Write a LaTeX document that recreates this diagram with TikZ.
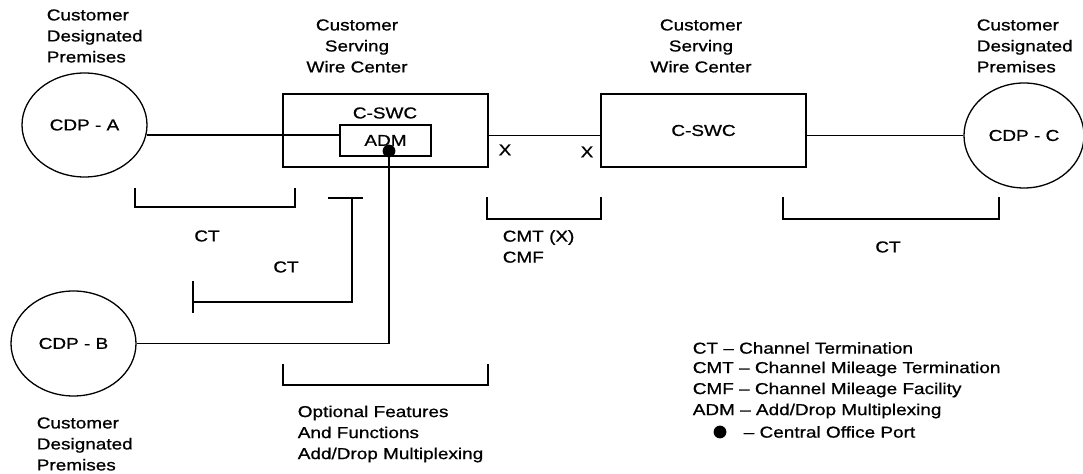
\documentclass[tikz,border=0pt]{standalone}
\usepackage{fontspec}
\setmainfont{Liberation Sans}[FakeStretch=1.2, FakeBold=0.8]
\usetikzlibrary{shapes.geometric}

\begin{document}
\begin{tikzpicture}[x=0.5pt, y=-0.5pt, line width=0.8pt,
  cdp/.style  ={draw, ellipse, inner sep=0pt, line width=0.65pt},
  swc/.style  ={draw, rectangle, inner sep=0pt, minimum width=102.5pt, minimum height=36.5pt},
  adm/.style  ={draw, rectangle, inner sep=0pt, minimum width=45.5pt, minimum height=15.5pt},
  port/.style ={circle, fill=black, inner sep=0pt, minimum size=6.4pt},
  lbl/.style  ={font=\fontsize{7.9}{10.5}\selectfont, inner sep=0pt}]

  \useasboundingbox (0,0) rectangle (1083,474);

  % ---------------- premises and wire centers ----------------
  \node[cdp,lbl,minimum width=62.5pt,minimum height=52pt]   (cdpa) at (84.5,125)  {CDP - A};
  \node[cdp,lbl,minimum width=62.5pt,minimum height=52.5pt] (cdpb) at (73.5,343.5) {CDP - B};
  \node[cdp,lbl,minimum width=60pt,minimum height=52.5pt]   (cdpc) at (1024,135.5) {CDP - C};

  \node[swc] (swc1) at (385.5,130.5) {};
  \node[lbl] (swc1lbl) at (385,113) {C-SWC};
  \node[adm,lbl] (adm) at (385.5,140.5) {ADM};
  \node[swc,lbl] (swc2) at (703.5,130.5) {C-SWC};

  % ---------------- captions ----------------
  \node[lbl,align=left,anchor=west]  (capa) at (46,36)   {Customer\\Designated\\Premises};
  \node[lbl,align=center]            (cap1) at (357,46)  {Customer\\Serving\\Wire Center};
  \node[lbl,align=center]            (cap2) at (701,46)  {Customer\\Serving\\Wire Center};
  \node[lbl,align=left,anchor=west]  (capc) at (976,46)  {Customer\\Designated\\Premises};
  \node[lbl,align=left,anchor=west]  (capb) at (36,444)  {Customer\\Designated\\Premises};

  % ---------------- channel lines ----------------
  \draw (cdpa.-9.26) -- (cdpa.-9.26 -| adm.west);
  \draw (swc1.east |- cdpc.west) -- (swc2.west |- cdpc.west);
  \draw (swc2.east |- cdpc.west) -- (cdpc.west);
  \node[port] (port) at (389,151) {};
  \draw (cdpb.east) -- (cdpb.east -| port.center) -- (port.center);
  \node[lbl] (x1) at (505,150) {X};
  \node[lbl] (x2) at (587,152) {X};

  % ---------------- brackets ----------------
  \draw (135,188) |- (295,207) -- (295,188);
  \node[lbl] (ct1) at (207,236) {CT};
  \draw (328,198) -- (363,198);
  \draw (352,198) |- (193,302);
  \draw (193,281) -- (193,313);
  \node[lbl] (ct2) at (286,267) {CT};
  \draw (487,197) |- (601,219) -- (601,197);
  \node[lbl,align=left,anchor=west] (cmt) at (502,246.5) {CMT (X)\\CMF};
  \draw (783,197) |- (999,219) -- (999,197);
  \node[lbl] (ct3) at (888,247) {CT};
  \draw (283,364) |- (488,385) -- (488,364);
  \node[lbl,align=left,anchor=west] (opt) at (297,434) {Optional Features\\And Functions\\Add/Drop Multiplexing};

  % ---------------- legend ----------------
  \node[lbl,anchor=west] (leg1) at (692,348) {CT -- Channel Termination};
  \node[lbl,anchor=west] (leg2) at (692,369) {CMT -- Channel Mileage Termination};
  \node[lbl,anchor=west] (leg3) at (692,390) {CMF -- Channel Mileage Facility};
  \node[lbl,anchor=west] (leg4) at (692,411) {ADM -- Add/Drop Multiplexing};
  \node[port] (legdot) at (720,432) {};
  \node[lbl,anchor=west] (leg5) at (743,432) {-- Central Office Port};
\end{tikzpicture}
\end{document}
